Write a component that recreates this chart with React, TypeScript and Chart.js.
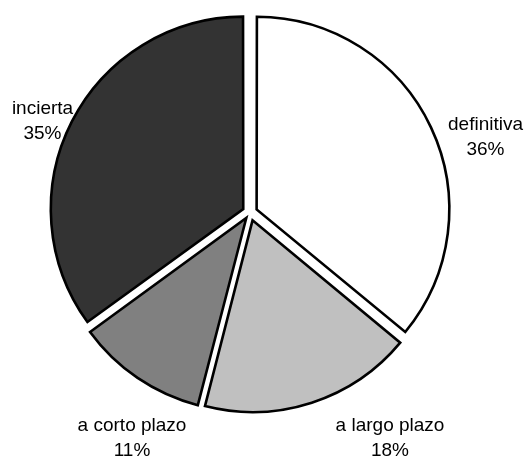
import React, { useEffect, useRef } from "react";
import { Chart, registerables } from "chart.js";

Chart.register(...registerables);

const categories = ["definitiva", "a largo plazo", "a corto plazo", "incierta"];
const values = [36, 18, 11, 35];
const sliceColors = ["#ffffff", "#c0c0c0", "#808080", "#333333"];

// label placement relative to pie centre (first-line baseline), in px
const labelDx = [235.5, 140, -118, -207.5];
const labelDy = [-83, 218, 218, -99];

const EXPLODE = 9;

const labelPlugin = {
  id: "outsideLabels",
  afterDatasetsDraw(chart: any) {
    const meta = chart.getDatasetMeta(0);
    const ctx = chart.ctx;
    const total = values.reduce((a, b) => a + b, 0);
    ctx.save();
    ctx.font = '19px "Liberation Sans", Arial, sans-serif';
    ctx.fillStyle = "#000000";
    ctx.textAlign = "center";
    ctx.textBaseline = "alphabetic";
    meta.data.forEach((arc: any, i: number) => {
      const cx = arc.x;
      const cy = arc.y;
      const x = cx + labelDx[i];
      const y = cy + labelDy[i];
      const pct = Math.round((values[i] / total) * 100) + "%";
      ctx.fillText(categories[i], x, y);
      ctx.fillText(pct, x, y + 25);
    });
    ctx.restore();
  },
};

export default function App() {
  const ref = useRef<HTMLCanvasElement>(null);
  useEffect(() => {
    if (!ref.current) return;
    const total = values.reduce((a, b) => a + b, 0);
    const chart = new Chart(ref.current, {
      type: "pie",
      data: {
        labels: categories,
        datasets: [
          {
            data: values,
            backgroundColor: sliceColors,
            borderColor: "#000000",
            borderWidth: 2.6,
            borderJoinStyle: "miter",
            radius: 191,
            offset: (c: any) => {
              const v = values[c.dataIndex] ?? 0;
              const circ = (v / total) * Math.PI * 2;
              const fix = 1 - Math.sin(Math.min(Math.PI, circ));
              return (EXPLODE * 4) / (1 + fix);
            },
          } as any,
        ],
      },
      options: {
        responsive: false,
        animation: false,
        layout: { padding: { left: 0, right: 24, top: 0, bottom: 32 } },
        plugins: {
          legend: { display: false },
          tooltip: { enabled: false },
        },
      },
      plugins: [labelPlugin],
    });
    return () => chart.destroy();
  }, []);
  return (
    <div
      style={{
        position: "fixed",
        left: 0,
        top: 0,
        width: 524,
        height: 457,
        background: "#ffffff",
      }}
    >
      <canvas ref={ref} width={524} height={457} style={{ display: "block" }} />
    </div>
  );
}
